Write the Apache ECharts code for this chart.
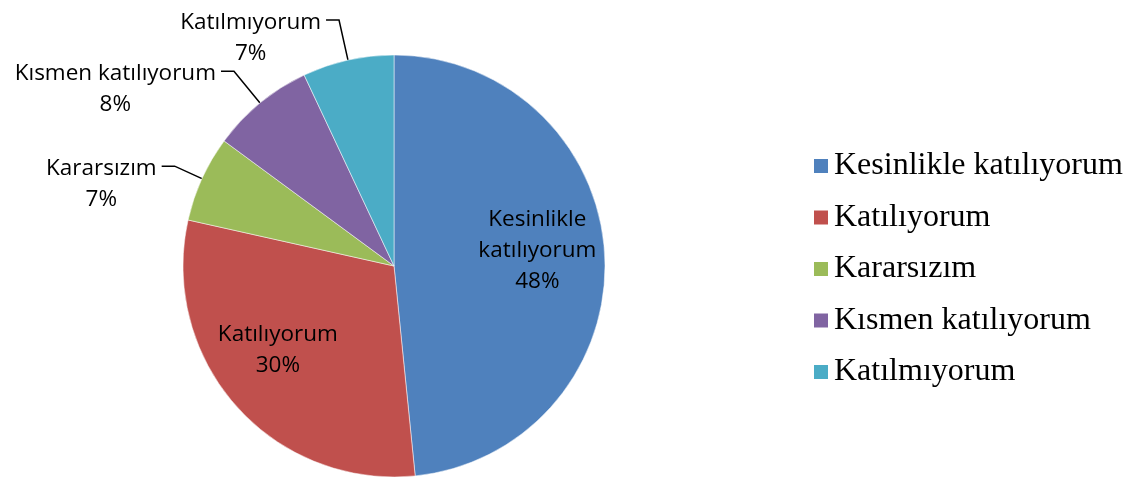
<!DOCTYPE html>
<html><head><meta charset="utf-8">
<script src="https://cdn.jsdelivr.net/npm/echarts@6/dist/echarts.min.js"></script>
<style>html,body{margin:0;padding:0;background:#fff}#c{width:1128px;height:477px}</style>
</head><body><div id="c"></div>
<script>
const categories = ['Kesinlikle katılıyorum', 'Katılıyorum', 'Kararsızım', 'Kısmen katılıyorum', 'Katılmıyorum'];
const values = [48.4, 30.1, 6.6, 7.9, 7.0];
const colors = ['#4F81BD', '#C0504D', '#9BBB59', '#8064A2', '#4BACC6'];

const labelFont = 'Open Sans';
const chart = echarts.init(document.getElementById('c'));
const data = categories.map((n, i) => {
  const d = { name: n, value: values[i], itemStyle: { color: colors[i] } };
  if (i < 2) {
    d.label = { position: 'inside', padding: 0 };
  }
  if (i === 2) {
    d.labelLine = { length: 30 };
  }
  return d;
});
chart.setOption({
  animation: false,
  legend: {
    orient: 'vertical', left: 812, top: 150, padding: 0,
    icon: 'rect', itemWidth: 16, itemHeight: 16, itemGap: 19.5,
    textStyle: { fontFamily: 'Liberation Serif', fontSize: 32, color: '#000' },
    data: categories
  },
  series: [{
    type: 'pie',
    center: [394, 266], radius: 211,
    startAngle: 90, clockwise: true,
    avoidLabelOverlap: false,
    itemStyle: { borderColor: '#fff', borderWidth: 0.5 },
    label: {
      show: true, position: 'outside', distanceToLabelLine: 5,
      padding: [36, 0, 0, 0],
      formatter: p => {
        const nm = p.dataIndex === 0 ? 'Kesinlikle\nkatılıyorum' : p.name;
        return nm.split('\n').map(s => '{a|' + s + '}').join('\n') + '\n{a|' + Math.round(p.percent) + '%}';
      },
      rich: { a: { fontFamily: labelFont, fontSize: 22.5, lineHeight: 31, color: '#000', align: 'center' } }
    },
    labelLine: { show: true, length: 41, length2: 13, lineStyle: { color: '#000', width: 1.5 } },
    labelLayout: p => {
      if (p.dataIndex === 0) return { dx: 35, dy: -10 };
      if (p.dataIndex === 1) return { dx: -35, dy: 12 };
      return {};
    },
    data: data
  }]
});
</script></body></html>
